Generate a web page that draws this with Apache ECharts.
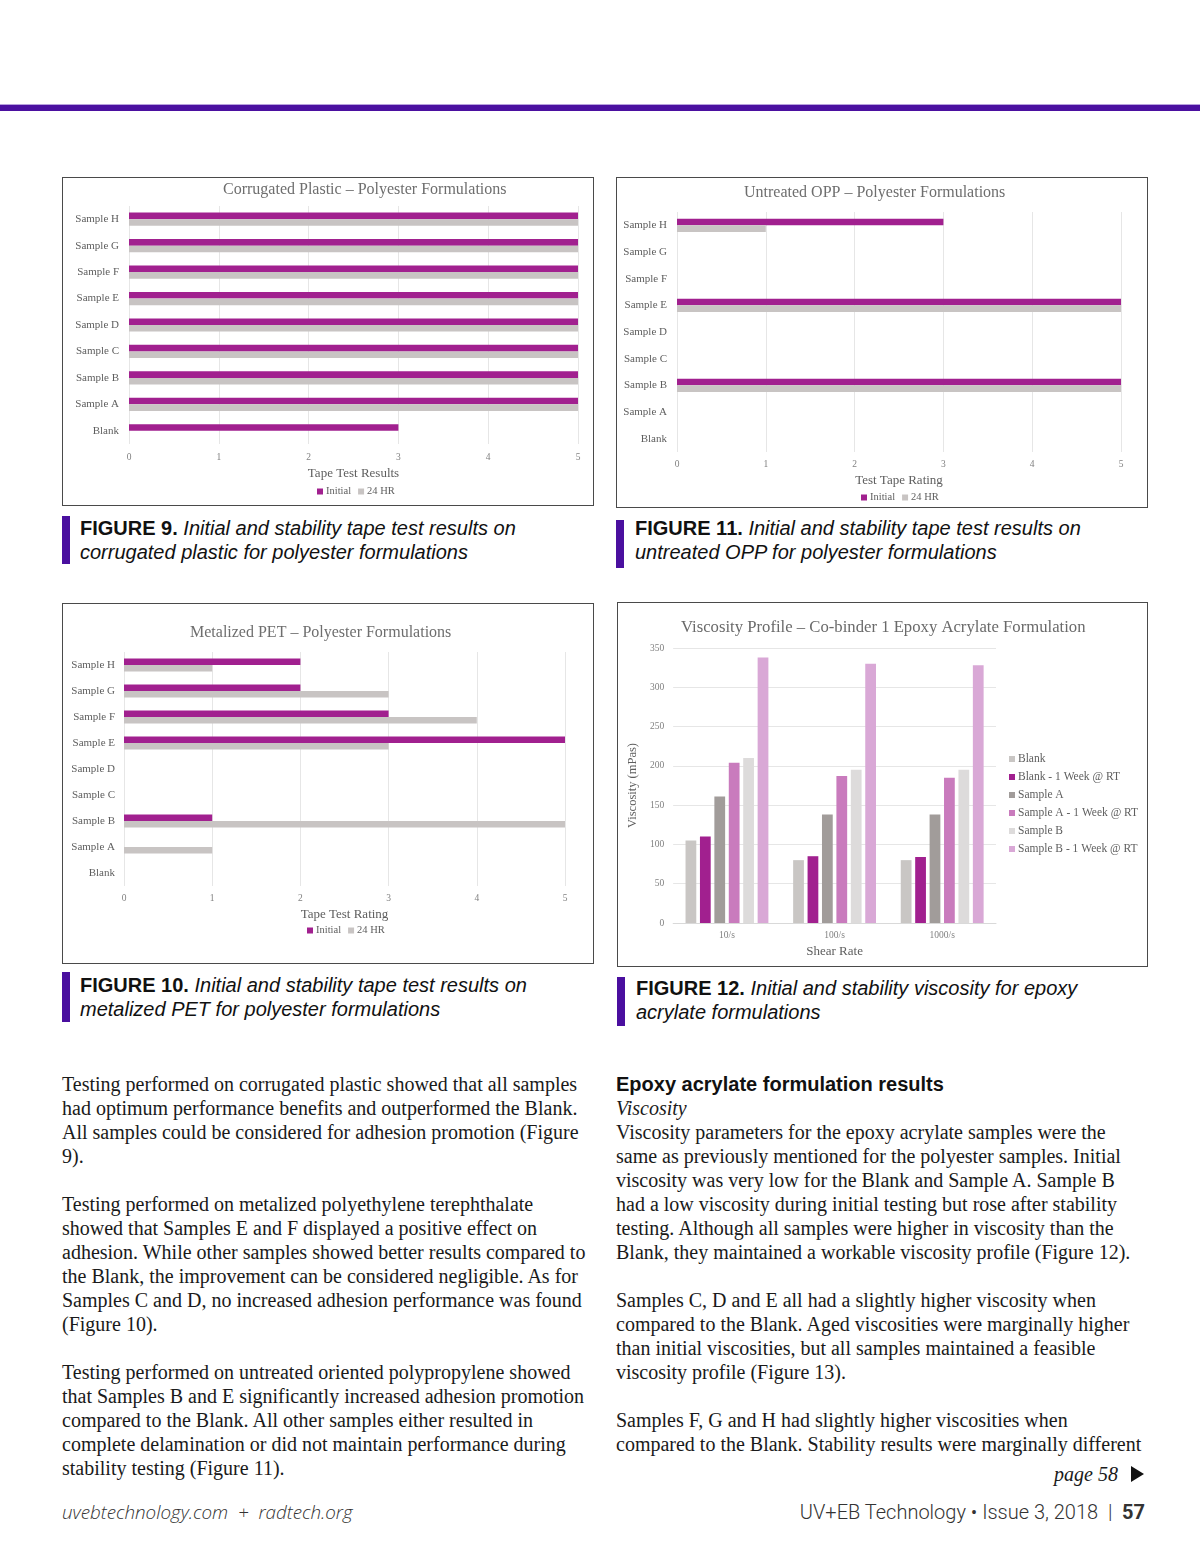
<!DOCTYPE html>
<html>
<head>
<meta charset="utf-8">
<script src="https://cdn.jsdelivr.net/npm/echarts/dist/echarts.min.js"></script>
<style>
  html, body { margin:0; padding:0; background:#fff; }
  #page { position:relative; width:1200px; height:1558px; background:#fff; overflow:hidden; }
  .topbar { position:absolute; left:0; top:104px; width:1200px; height:6px; background:#4b10a0; border-top:1px solid #b7a0dd; }
  .box { position:absolute; border:1px solid #4a4a4a; background:#fff; box-sizing:border-box; }
  .capbar { position:absolute; width:8px; background:#4a0f9f; }
  .cap { position:absolute; font-family:'Liberation Sans', Arial, sans-serif; font-size:20px; line-height:24px; color:#111; white-space:pre; }
  .cap b { font-weight:bold; }
  .cap i { font-style:italic; }
  .body { position:absolute; font-family:'Liberation Serif', 'Times New Roman', serif; font-size:20px; line-height:24px; color:#1a1a1a; white-space:pre; }
  .body .h { font-family:'Liberation Sans', Arial, sans-serif; font-weight:bold; color:#111; }
  .foot { position:absolute; color:#333; white-space:pre; }
</style>
</head>
<body>
<div id="page">
  <div class="topbar"></div>

  <div class="box" id="c9" style="left:62px;top:177px;width:532px;height:329px;"></div>
  <div class="box" id="c11" style="left:616px;top:177px;width:532px;height:331px;"></div>
  <div class="box" id="c10" style="left:62px;top:603px;width:532px;height:361px;"></div>
  <div class="box" id="c12" style="left:617px;top:602px;width:531px;height:365px;"></div>

  <div class="capbar" style="left:62px;top:516px;height:48px;"></div>
  <div class="cap" style="left:80px;top:516px;"><b>FIGURE 9.</b> <i>Initial and stability tape test results on
corrugated plastic for polyester formulations</i></div>

  <div class="capbar" style="left:616px;top:520px;height:48px;"></div>
  <div class="cap" style="left:635px;top:516px;"><b>FIGURE 11.</b> <i>Initial and stability tape test results on
untreated OPP for polyester formulations</i></div>

  <div class="capbar" style="left:62px;top:972px;height:50px;"></div>
  <div class="cap" style="left:80px;top:973px;"><b>FIGURE 10.</b> <i>Initial and stability tape test results on
metalized PET for polyester formulations</i></div>

  <div class="capbar" style="left:617px;top:977px;height:49px;"></div>
  <div class="cap" style="left:636px;top:976px;"><b>FIGURE 12.</b> <i>Initial and stability viscosity for epoxy
acrylate formulations</i></div>

  <div class="body" style="left:62px;top:1072px;">Testing performed on corrugated plastic showed that all samples
had optimum performance benefits and outperformed the Blank.
All samples could be considered for adhesion promotion (Figure
9).

Testing performed on metalized polyethylene terephthalate
showed that Samples E and F displayed a positive effect on
adhesion. While other samples showed better results compared to
the Blank, the improvement can be considered negligible. As for
Samples C and D, no increased adhesion performance was found
(Figure 10).

Testing performed on untreated oriented polypropylene showed
that Samples B and E significantly increased adhesion promotion
compared to the Blank. All other samples either resulted in
complete delamination or did not maintain performance during
stability testing (Figure 11).</div>

  <div class="body" style="left:616px;top:1072px;"><span class="h">Epoxy acrylate formulation results</span>
<i>Viscosity</i>
Viscosity parameters for the epoxy acrylate samples were the
same as previously mentioned for the polyester samples. Initial
viscosity was very low for the Blank and Sample A. Sample B
had a low viscosity during initial testing but rose after stability
testing. Although all samples were higher in viscosity than the
Blank, they maintained a workable viscosity profile (Figure 12).

Samples C, D and E all had a slightly higher viscosity when
compared to the Blank. Aged viscosities were marginally higher
than initial viscosities, but all samples maintained a feasible
viscosity profile (Figure 13).

Samples F, G and H had slightly higher viscosities when
compared to the Blank. Stability results were marginally different</div>

  <div class="body" style="left:1054px;top:1462px;font-style:italic;">page 58</div>
  <div style="position:absolute;left:1131px;top:1466px;width:0;height:0;border-top:8px solid transparent;border-bottom:8px solid transparent;border-left:13px solid #111;"></div>

  <div class="foot" style="left:62px;top:1500px;font-family:'Open Sans',sans-serif;font-style:italic;font-weight:300;font-size:18.8px;line-height:24px;">uvebtechnology.com  +  radtech.org</div>
  <div class="foot" style="right:55px;top:1499px;font-family:Roboto,sans-serif;font-weight:300;font-size:20px;line-height:26px;">UV+EB Technology • Issue 3, 2018  |  <b style="font-weight:700;">57</b></div>
</div>

<script>
// ---------- DATA ----------
const tapeCategories = ['Blank', 'Sample A', 'Sample B', 'Sample C', 'Sample D', 'Sample E', 'Sample F', 'Sample G', 'Sample H'];
const tapeTicks = [0, 1, 2, 3, 4, 5];
const tapeLegend = ['Initial', '24 HR'];

const corrugatedInitial = [3, 5, 5, 5, 5, 5, 5, 5, 5];
const corrugated24hr    = [0, 5, 5, 5, 5, 5, 5, 5, 5];

const oppInitial = [0, 0, 5, 0, 0, 5, 0, 0, 3];
const opp24hr    = [0, 0, 5, 0, 0, 5, 0, 0, 1];

const petInitial = [0, 0, 1, 0, 0, 5, 3, 2, 2];
const pet24hr    = [0, 1, 5, 0, 0, 3, 4, 3, 1];

const shearRates = ['10/s', '100/s', '1000/s'];
const viscSeriesNames = ['Blank', 'Blank - 1 Week @ RT', 'Sample A', 'Sample A - 1 Week @ RT', 'Sample B', 'Sample B - 1 Week @ RT'];
const viscBlank       = [105, 80, 80];
const viscBlankWeek   = [110, 85, 84];
const viscSampleA     = [161, 138, 138];
const viscSampleAWeek = [204, 187, 185];
const viscSampleB     = [210, 195, 195];
const viscSampleBWeek = [338, 330, 328];
const viscTicks = [0, 50, 100, 150, 200, 250, 300, 350];

// ---------- STYLE ----------
const SERIF = "'Liberation Serif', 'Times New Roman', serif";
const PURPLE = '#a1208f';
const LGRAY = '#c8c4c3';
const TXT = '#5e5e5e';

function tapeChart(id, title, axisName, initial, h24, L) {
  const chart = echarts.init(document.getElementById(id), null, { renderer: 'canvas' });
  chart.setOption({
    animation: false,
    backgroundColor: '#fff',
    title: {
      text: title, left: L.titleLeft, top: L.titleTop, padding: 0,
      textStyle: { fontFamily: SERIF, fontSize: 16, fontWeight: 'normal', color: '#6e6e6e' }
    },
    legend: {
      data: tapeLegend, left: L.legendLeft, top: L.legendTop, padding: 0,
      icon: 'rect', itemWidth: 6, itemHeight: 6, itemGap: 7,
      textStyle: { fontFamily: SERIF, fontSize: 10.5, color: TXT, padding: [0, 0, 0, -2] }
    },
    grid: L.grid,
    xAxis: {
      type: 'value', min: tapeTicks[0], max: tapeTicks[tapeTicks.length - 1], interval: 1,
      name: axisName, nameLocation: 'middle', nameGap: L.nameGap,
      nameTextStyle: { fontFamily: SERIF, fontSize: 13, color: TXT },
      axisLine: { show: false }, axisTick: { show: false },
      axisLabel: { fontFamily: SERIF, fontSize: 9.5, color: '#808080', margin: L.tickMargin },
      splitLine: { lineStyle: { color: '#e6e6e6', width: 1 } }
    },
    yAxis: {
      type: 'category', data: tapeCategories,
      axisLine: { show: false }, axisTick: { show: false },
      axisLabel: { fontFamily: SERIF, fontSize: 11, color: TXT, margin: L.catMargin }
    },
    series: [
      { name: tapeLegend[0], type: 'bar', data: initial, barGap: '0%', barCategoryGap: '50%', itemStyle: { color: PURPLE } },
      { name: tapeLegend[1], type: 'bar', data: h24, barGap: '0%', barCategoryGap: '50%', itemStyle: { color: LGRAY } }
    ]
  });
}

// Figure 9 (content origin 63,178)
tapeChart('c9', 'Corrugated Plastic \u2013 Polyester Formulations', 'Tape Test Results', corrugatedInitial, corrugated24hr, {
  titleLeft: 160, titleTop: 4, legendLeft: 254, legendTop: 308, nameGap: 22, tickMargin: 8, catMargin: 10,
  grid: { left: 66, right: 15, top: 28, bottom: 61 }
});
// Figure 11 (content origin 617,178)
tapeChart('c11', 'Untreated OPP \u2013 Polyester Formulations', 'Test Tape Rating', oppInitial, opp24hr, {
  titleLeft: 127, titleTop: 7, legendLeft: 244, legendTop: 314, nameGap: 21, tickMargin: 7, catMargin: 10,
  grid: { left: 60, right: 26, top: 34, bottom: 55 }
});
// Figure 10 (content origin 63,604)
tapeChart('c10', 'Metalized PET \u2013 Polyester Formulations', 'Tape Test Rating', petInitial, pet24hr, {
  titleLeft: 127, titleTop: 21, legendLeft: 244, legendTop: 321, nameGap: 21, tickMargin: 7, catMargin: 9,
  grid: { left: 61, right: 28, top: 48, bottom: 77 }
});

// Figure 12 (content origin 618,603)
(function () {
  const chart = echarts.init(document.getElementById('c12'), null, { renderer: 'canvas' });
  const viscData = [viscBlank, viscBlankWeek, viscSampleA, viscSampleAWeek, viscSampleB, viscSampleBWeek];
  const viscColors = ['#c9c6c4', '#a1208f', '#a19c9a', '#c97bbd', '#dddbdb', '#d9a8d6'];
  chart.setOption({
    animation: false,
    backgroundColor: '#fff',
    title: {
      text: 'Viscosity Profile \u2013 Co-binder 1 Epoxy Acrylate Formulation', left: 63, top: 16, padding: 0,
      textStyle: { fontFamily: SERIF, fontSize: 16.7, fontWeight: 'normal', color: '#6a6a6a' }
    },
    legend: {
      data: viscSeriesNames, orient: 'vertical', left: 391, top: 150, padding: 0,
      icon: 'rect', itemWidth: 6, itemHeight: 6, itemGap: 6,
      textStyle: { fontFamily: SERIF, fontSize: 11.5, lineHeight: 12, color: TXT, padding: [0, 0, 0, -2] }
    },
    grid: { left: 51, right: 151, top: 45, bottom: 43 },
    xAxis: {
      type: 'category', data: shearRates,
      name: 'Shear Rate', nameLocation: 'middle', nameGap: 21,
      nameTextStyle: { fontFamily: SERIF, fontSize: 13, color: TXT },
      axisLine: { lineStyle: { color: '#d9d9d9' } }, axisTick: { show: false },
      axisLabel: { fontFamily: SERIF, fontSize: 9.5, color: '#808080', margin: 7 }
    },
    yAxis: {
      type: 'value', min: viscTicks[0], max: viscTicks[viscTicks.length - 1], interval: 50,
      name: 'Viscosity (mPas)', nameLocation: 'middle', nameGap: 33,
      nameTextStyle: { fontFamily: SERIF, fontSize: 12.5, color: TXT },
      axisLine: { show: false }, axisTick: { show: false },
      axisLabel: { fontFamily: SERIF, fontSize: 9.5, color: '#808080', margin: 9 },
      splitLine: { lineStyle: { color: '#e6e6e6' } }
    },
    series: viscSeriesNames.map((n, i) => ({
      name: n, type: 'bar', data: viscData[i], barGap: '34%', barCategoryGap: '23%',
      itemStyle: { color: viscColors[i] }
    }))
  });
})();
</script>
</body>
</html>
